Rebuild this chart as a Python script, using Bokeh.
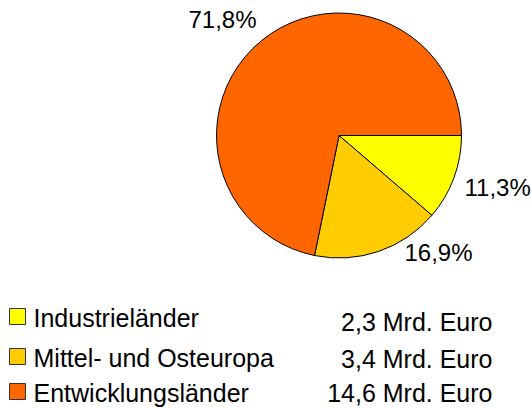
import math
from bokeh.plotting import figure
from bokeh.models import Range1d, ColumnDataSource
from bokeh.core.properties import value
from bokeh.embed import file_html
from bokeh.resources import INLINE

# Data
categories = ["Industrieländer", "Mittel- und Osteuropa", "Entwicklungsländer"]
amounts = ["2,3 Mrd. Euro", "3,4 Mrd. Euro", "14,6 Mrd. Euro"]
percents = [11.3, 16.9, 71.8]
pct_labels = ["11,3%", "16,9%", "71,8%"]
colors = ["#FFFF00", "#FFCC00", "#FF6600"]

W, H = 532, 408
FONT = "Liberation Sans"
TXT_SHIFT = 8  # compensate baseline rendering offset

p = figure(width=W, height=H, output_backend="svg", toolbar_location=None,
           x_range=Range1d(0, W), y_range=Range1d(0, H),
           min_border=0, min_border_left=0, min_border_right=0,
           min_border_top=0, min_border_bottom=0)
p.axis.visible = False
p.grid.visible = False
p.outline_line_color = None
p.background_fill_color = "white"
p.border_fill_color = "white"

def Y(py):
    return H - py

def YT(py):
    return H - (py - TXT_SHIFT)

# Pie (clockwise from 3 o'clock)
total = sum(percents)
starts, ends = [], []
cum = 0.0
for v in percents:
    a0 = 2 * math.pi * cum / total
    cum += v
    a1 = 2 * math.pi * cum / total
    starts.append(-a1)
    ends.append(-a0)

cx, cy, r = 338.5, 135.0, 122.5
src = ColumnDataSource(dict(start=starts, end=ends, color=colors))
p.wedge(x=cx, y=Y(cy), radius=r, start_angle="start", end_angle="end",
        fill_color="color", line_color="black", line_width=1, source=src)

# Percentage labels
lab_x = [464, 404, 188]
lab_y = [YT(195), YT(260), YT(27)]
p.text(x=lab_x, y=lab_y, text=pct_labels, text_font=value(FONT),
       text_font_size="24px", text_color="black",
       text_baseline="alphabetic", text_align="left")

# Legend
row_base = [325, 365, 400]
sq_y = [Y(b - 9) for b in row_base]
p.rect(x=[17] * 3, y=sq_y, width=16, height=16, fill_color=colors,
       line_color="#333333", line_width=1)
p.text(x=[33] * 3, y=[YT(b) for b in row_base], text=categories,
       text_font=value(FONT), text_font_size="25px", text_color="black",
       text_baseline="alphabetic", text_align="left")
val_base = [329, 366, 400]
p.text(x=[492] * 3, y=[YT(b) for b in val_base], text=amounts,
       text_font=value(FONT), text_font_size="25px", text_color="black",
       text_baseline="alphabetic", text_align="right")

open("out.html", "w").write(file_html(p, INLINE))
